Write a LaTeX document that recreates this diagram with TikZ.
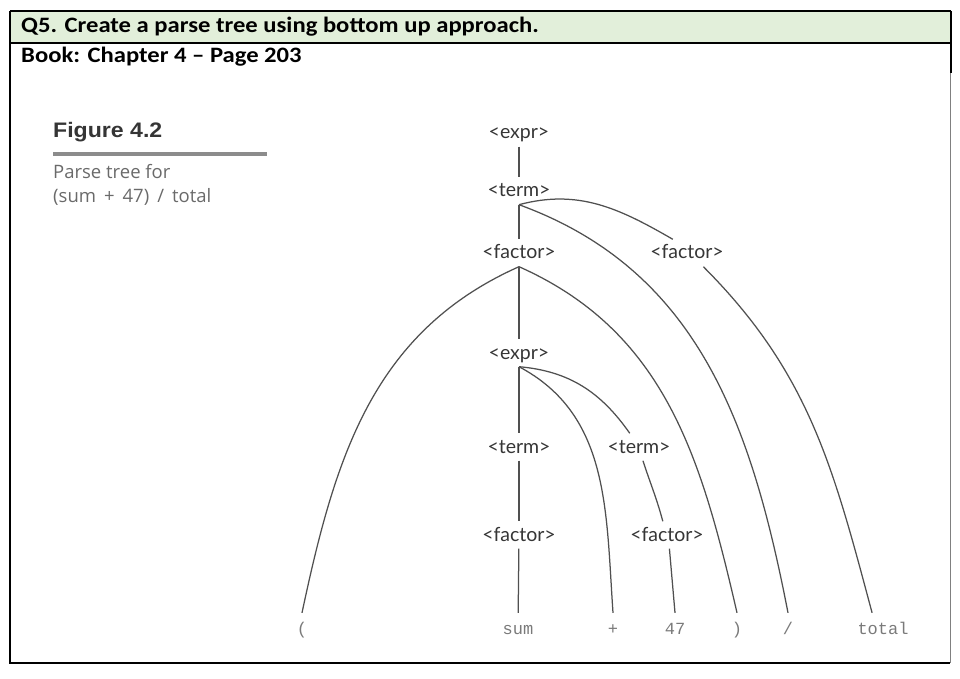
\documentclass[tikz,border=0pt]{standalone}
\usepackage{fontspec}
\newfontfamily\headfont[FakeStretch=1.12]{Carlito}
\newfontfamily\figfont[FakeStretch=1.1]{Liberation Sans}
\newfontfamily\capfont{Open Sans}
\newfontfamily\ntfont{Lato}
\newfontfamily\leaffont{Liberation Mono}
\definecolor{headgreen}{HTML}{E2EFDA}
\definecolor{linegray}{HTML}{505050}
\definecolor{ntgray}{HTML}{363636}
\definecolor{leafgray}{HTML}{7A7A7A}
\definecolor{capgray}{HTML}{6A6A6A}
\definecolor{figgray}{HTML}{353535}
\definecolor{rulegray}{HTML}{8C8C8C}
\begin{document}
\begin{tikzpicture}[x=1pt, y=1pt]
    % Define styles
    \tikzset{
        headtext/.style={anchor=base west, inner sep=0pt, font=\headfont\bfseries\fontsize{22}{26}\selectfont},
        nt/.style={font=\ntfont\fontsize{19.5}{22}\selectfont, text=ntgray, text height=12pt, text depth=0pt, inner xsep=2pt, inner ysep=7.5pt},
        leaf/.style={font=\leaffont\fontsize{17}{20}\selectfont, text=leafgray, text height=10pt, text depth=0pt, inner xsep=1pt, inner ysep=11pt},
        branch/.style={draw=linegray, line width=1.25pt}
    }
    \useasboundingbox (0,0) rectangle (960,678);

    % Table frame
    \fill[headgreen] (10,635) rectangle (951,667);
    \draw[line width=2pt] (10,667) -- (951,667);
    \draw[line width=2pt] (10,635) -- (951,635);
    \draw[line width=2pt] (10,667) -- (10,15) -- (950,15);
    \draw[line width=2pt] (951,667) -- (951,605);
    \draw[line width=1pt, draw=gray] (950,605) -- (950,15);

    % Header texts
    \node[headtext] (title) at (21,645) {Q5. Create a parse tree using bottom up approach.};
    \node[headtext] (book) at (21,615) {Book: Chapter 4 – Page 203};

    % Figure caption
    \node[anchor=base west, inner sep=0pt, text=figgray, font=\figfont\bfseries\fontsize{21}{24}\selectfont] (figlbl) at (53,540) {Figure 4.2};
    \draw[rulegray, line width=4pt] (53,524) -- (267,524);
    \node[anchor=base west, inner sep=0pt, align=left, text=capgray, font=\capfont\fontsize{18.5}{24}\selectfont] (capt) at (53,475) {Parse tree for\\(sum\hspace{8pt}+\hspace{8pt}47)\hspace{8pt}/\hspace{8pt}total};

    % Nonterminals
    \node[nt] (expr1) at (519,545) {<expr>};
    \node[nt] (term1) at (519,487) {<term>};
    \node[nt] (fac1) at (519,425) {<factor>};
    \node[nt] (rfac1) at (687,425) {<factor>};
    \node[nt] (expr2) at (519,325) {<expr>};
    \node[nt] (term2) at (519,231) {<term>};
    \node[nt] (rterm) at (639,231) {<term>};
    \node[nt] (fac2) at (519,143) {<factor>};
    \node[nt] (rfac2) at (667,143) {<factor>};

    % Leaves
    \node[leaf] (lpar) at (302,49) {(};
    \node[leaf] (sum) at (518,49) {sum};
    \node[leaf] (plus) at (613,49) {+};
    \node[leaf] (n47) at (675,49) {47};
    \node[leaf] (rpar) at (737,49) {)};
    \node[leaf] (slash) at (788,49) {/};
    \node[leaf] (total) at (883,49) {total};

    % Branches
    \draw[branch] (expr1) -- (term1);
    \draw[branch] (term1) -- (fac1);
    \draw[branch] (term1.south) to[out=15, in=150] (rfac1.136);
    \draw[branch] (term1.south) to[out=-20, in=101] (slash.north);
    \draw[branch] (rfac1.-40) to[out=-45, in=105] (total.124);
    \draw[branch] (fac1.south) to[out=204, in=78] (lpar.north);
    \draw[branch] (fac1) -- (expr2);
    \draw[branch] (fac1.south) to[out=-24, in=103] (rpar.north);
    \draw[branch] (expr2) -- (term2);
    \draw[branch] (expr2.south) to[out=-5, in=125] (rterm.124);
    \draw[branch] (expr2.south) to[out=-28, in=94] (plus.north);
    \draw[branch] (term2) -- (fac2);
    \draw[branch] (fac2) -- (sum);
    \draw[branch] (rterm.-74) to[out=-72, in=105] (rfac2.107);
    \draw[branch] (rfac2.-80) to[out=-85, in=95] (n47.north);
\end{tikzpicture}
\end{document}
